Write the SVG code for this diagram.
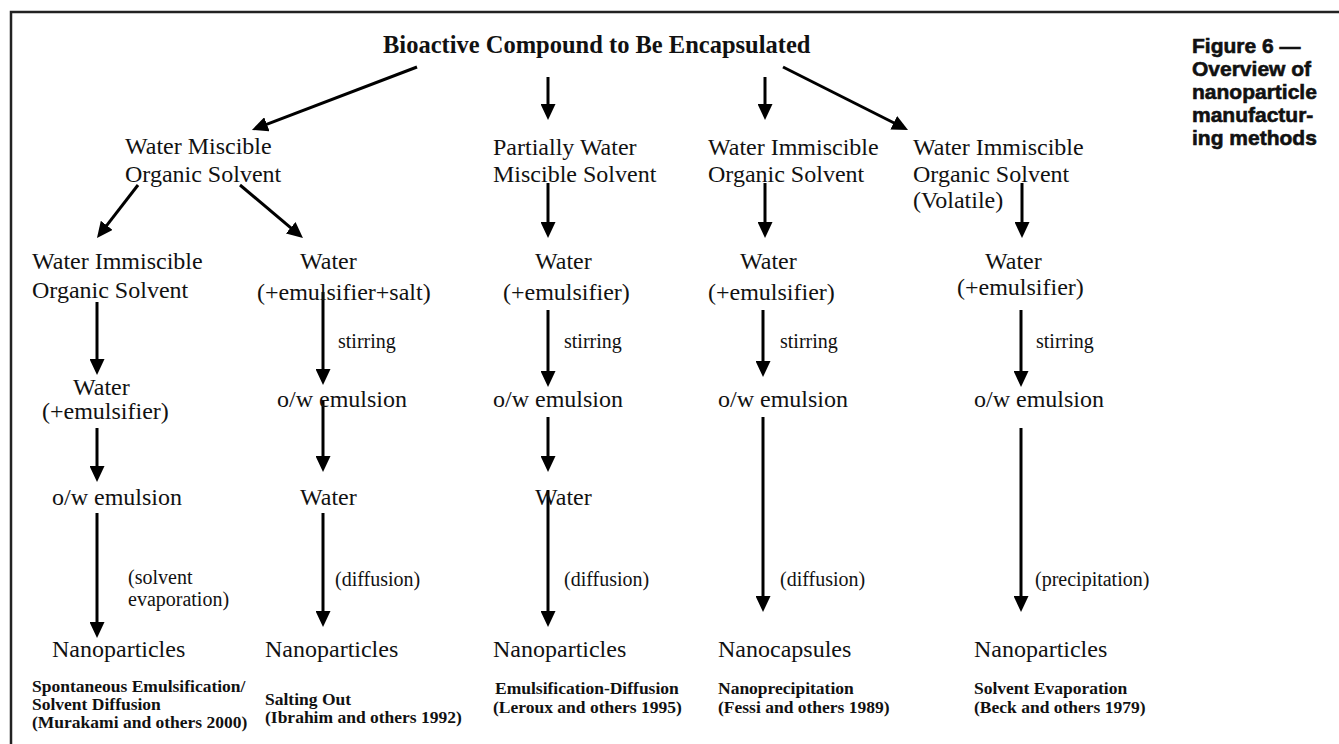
<svg xmlns="http://www.w3.org/2000/svg" width="1339" height="744" viewBox="0 0 1339 744">
<style>
.t{font-family:"Liberation Serif","Times New Roman",serif;font-size:24px;fill:#111}
.s{font-family:"Liberation Serif","Times New Roman",serif;font-size:20px;fill:#111}
.b{font-family:"Liberation Serif","Times New Roman",serif;font-size:17.5px;font-weight:bold;fill:#111}
.h{font-family:"Liberation Serif","Times New Roman",serif;font-size:24.5px;font-weight:bold;fill:#111}
.cap{font-family:"Liberation Sans",Arial,sans-serif;font-size:21px;font-weight:bold;fill:#111;stroke:#111;stroke-width:0.6}
.a{stroke:#000;stroke-width:3;fill:none;marker-end:url(#ah)}
</style>
<defs>
<marker id="ah" markerUnits="userSpaceOnUse" markerWidth="16" markerHeight="15" refX="6" refY="7.5" orient="auto">
<path d="M0,0 L16,7.5 L0,15 z" fill="#000"/>
</marker>
</defs>
<path d="M11,744 L11,12 L1339,12" fill="none" stroke="#222" stroke-width="2.5"/>
<g id="caption">
<text class="cap" x="1192" y="53">Figure 6 —</text>
<text class="cap" x="1192" y="76">Overview of</text>
<text class="cap" x="1192" y="99">nanoparticle</text>
<text class="cap" x="1192" y="122">manufactur-</text>
<text class="cap" x="1192" y="145">ing methods</text>
</g>
<g id="connectors">
<line class="a" x1="417" y1="67" x2="261.3" y2="126.4"/>
<line class="a" x1="783" y1="67" x2="899.1" y2="125.5"/>
<line class="a" x1="548" y1="77" x2="548" y2="110"/>
<line class="a" x1="765" y1="77" x2="765" y2="110"/>
<line class="a" x1="138" y1="185" x2="103.1" y2="230.1"/>
<line class="a" x1="240" y1="185" x2="295.3" y2="231.6"/>
<line class="a" x1="548" y1="183" x2="548" y2="228"/>
<line class="a" x1="765" y1="183" x2="765" y2="228"/>
<line class="a" x1="1022" y1="183" x2="1022" y2="228"/>
<line class="a" x1="97" y1="302" x2="97" y2="365"/>
<line class="a" x1="97" y1="428" x2="97" y2="472"/>
<line class="a" x1="97" y1="513" x2="97" y2="628"/>
<line class="a" x1="323" y1="292" x2="323" y2="375"/>
<line class="a" x1="323" y1="400" x2="323" y2="462"/>
<line class="a" x1="323" y1="513" x2="323" y2="617"/>
<line class="a" x1="548" y1="310" x2="548" y2="377"/>
<line class="a" x1="548" y1="417" x2="548" y2="462"/>
<line class="a" x1="548" y1="490" x2="548" y2="617"/>
<line class="a" x1="763" y1="310" x2="763" y2="367"/>
<line class="a" x1="763" y1="417" x2="763" y2="602"/>
<line class="a" x1="1021" y1="310" x2="1021" y2="377"/>
<line class="a" x1="1021" y1="428" x2="1021" y2="602"/>
</g>
<g id="n-bioactive"><text class="h" x="383" y="53">Bioactive Compound to Be Encapsulated</text></g>
<g id="n-wmos">
<text class="t" x="125" y="154">Water Miscible</text>
<text class="t" x="125" y="182">Organic Solvent</text>
</g>
<g id="n-pwms">
<text class="t" x="493" y="155">Partially Water</text>
<text class="t" x="493" y="182">Miscible Solvent</text>
</g>
<g id="n-wios">
<text class="t" x="708" y="155">Water Immiscible</text>
<text class="t" x="708" y="182">Organic Solvent</text>
</g>
<g id="n-wiosv">
<text class="t" x="913" y="155">Water Immiscible</text>
<text class="t" x="913" y="182">Organic Solvent</text>
<text class="t" x="913" y="208">(Volatile)</text>
</g>
<g id="c1-wios">
<text class="t" x="32" y="269">Water Immiscible</text>
<text class="t" x="32" y="298">Organic Solvent</text>
</g>
<g id="c2-water">
<text class="t" x="300" y="269">Water</text>
<text class="t" x="257" y="300">(+emulsifier+salt)</text>
</g>
<g id="c3-water">
<text class="t" x="535" y="269">Water</text>
<text class="t" x="503" y="300">(+emulsifier)</text>
</g>
<g id="c4-water">
<text class="t" x="740" y="269">Water</text>
<text class="t" x="708" y="300">(+emulsifier)</text>
</g>
<g id="c5-water">
<text class="t" x="985" y="269">Water</text>
<text class="t" x="957" y="295">(+emulsifier)</text>
</g>
<g id="c1-water">
<text class="t" x="73" y="395">Water</text>
<text class="t" x="42" y="419">(+emulsifier)</text>
</g>
<g id="labels-stirring">
<text class="s" x="338" y="348">stirring</text>
<text class="s" x="564" y="348">stirring</text>
<text class="s" x="780" y="348">stirring</text>
<text class="s" x="1036" y="348">stirring</text>
</g>
<g id="c2-emulsion"><text class="t" x="277" y="407">o/w emulsion</text></g>
<g id="c3-emulsion"><text class="t" x="493" y="407">o/w emulsion</text></g>
<g id="c4-emulsion"><text class="t" x="718" y="407">o/w emulsion</text></g>
<g id="c5-emulsion"><text class="t" x="974" y="407">o/w emulsion</text></g>
<g id="c1-emulsion"><text class="t" x="52" y="505">o/w emulsion</text></g>
<g id="c2-water2"><text class="t" x="300" y="505">Water</text></g>
<g id="c3-water2"><text class="t" x="535" y="505">Water</text></g>
<g id="labels-process">
<text class="s" x="128" y="584">(solvent</text>
<text class="s" x="128" y="606">evaporation)</text>
<text class="s" x="335" y="586">(diffusion)</text>
<text class="s" x="564" y="586">(diffusion)</text>
<text class="s" x="780" y="586">(diffusion)</text>
<text class="s" x="1035" y="586">(precipitation)</text>
</g>
<g id="c1-result">
<text class="t" x="52" y="657">Nanoparticles</text>
<text class="b" x="32" y="692">Spontaneous Emulsification/</text>
<text class="b" x="32" y="710">Solvent Diffusion</text>
<text class="b" x="32" y="728">(Murakami and others 2000)</text>
</g>
<g id="c2-result">
<text class="t" x="265" y="657">Nanoparticles</text>
<text class="b" x="265" y="705">Salting Out</text>
<text class="b" x="265" y="723">(Ibrahim and others 1992)</text>
</g>
<g id="c3-result">
<text class="t" x="493" y="657">Nanoparticles</text>
<text class="b" x="495" y="694">Emulsification-Diffusion</text>
<text class="b" x="493" y="713">(Leroux and others 1995)</text>
</g>
<g id="c4-result">
<text class="t" x="718" y="657">Nanocapsules</text>
<text class="b" x="718" y="694">Nanoprecipitation</text>
<text class="b" x="718" y="713">(Fessi and others 1989)</text>
</g>
<g id="c5-result">
<text class="t" x="974" y="657">Nanoparticles</text>
<text class="b" x="974" y="694">Solvent Evaporation</text>
<text class="b" x="974" y="713">(Beck and others 1979)</text>
</g>
</svg>
